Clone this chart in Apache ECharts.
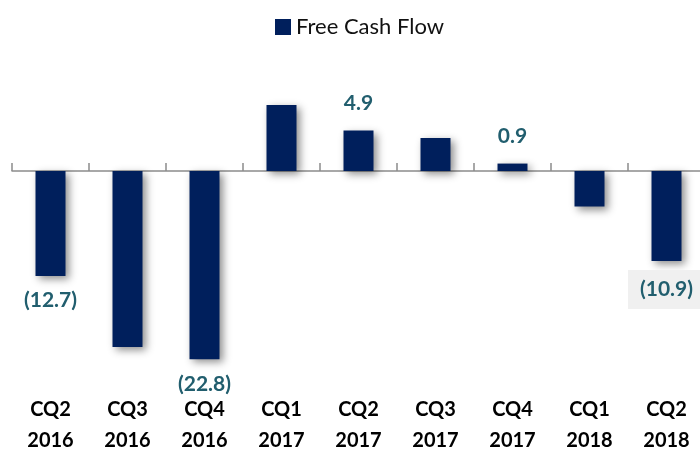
<!DOCTYPE html>
<html><head><meta charset="utf-8">
<script src="https://cdn.jsdelivr.net/npm/echarts@6/dist/echarts.min.js"></script>
<style>html,body{margin:0;padding:0;background:#fff}#c{width:700px;height:455px}</style>
</head><body><div id="c"></div>
<script>
const categories = ['CQ2\n2016','CQ3\n2016','CQ4\n2016','CQ1\n2017','CQ2\n2017','CQ3\n2017','CQ4\n2017','CQ1\n2018','CQ2\n2018'];
const values = [-12.7, -21.3, -22.8, 8.0, 4.9, 4.0, 0.9, -4.3, -10.9];
const labelShown = [true, false, true, false, true, false, true, false, true];
const seriesName = 'Free Cash Flow';

const k = 8.26, zeroY = 171, yMax = 10, yMin = -25;
const fmt = v => v < 0 ? '(' + Math.abs(v).toFixed(1) + ')' : v.toFixed(1);
const data = values.map((v, i) => {
  const d = { value: v };
  if (labelShown[i]) {
    d.label = {
      show: true,
      position: v < 0 ? 'bottom' : 'top',
      distance: v < 0 ? 14 : 17,
      formatter: p => fmt(p.value)
    };
    if (i === values.length - 1) {
      d.label.backgroundColor = '#F0F0F0';
      d.label.padding = [9, 12, 9, 12];
      d.label.distance = 9;
    }
  }
  return d;
});

const chart = echarts.init(document.getElementById('c'));
chart.setOption({
  animation: false,
  legend: {
    top: 11, left: 270,
    itemWidth: 16, itemHeight: 16, itemGap: 6,
    icon: 'rect',
    textStyle: { fontFamily: 'Lato', fontSize: 22, color: '#111' },
    data: [seriesName]
  },
  grid: { left: 12, width: 693, top: zeroY - yMax * k, height: (yMax - yMin) * k, containLabel: false, outerBoundsMode: 'none' },
  xAxis: [{
    type: 'category', data: categories,
    axisLine: { onZero: true, lineStyle: { color: '#8c8c8c', width: 1.5 } },
    axisTick: { show: true, inside: true, length: 8, lineStyle: { color: '#8c8c8c', width: 1.5 } },
    axisLabel: { show: false }
  }, {
    type: 'category', data: categories, position: 'bottom',
    axisLine: { show: false, onZero: false },
    axisTick: { show: false },
    axisLabel: { margin: 17, fontFamily: 'Lato', fontWeight: 'bold', fontSize: 20, color: '#000', lineHeight: 31, interval: 0 }
  }],
  yAxis: { type: 'value', min: yMin, max: yMax, show: false, splitLine: { show: false } },
  series: [{
    name: seriesName, type: 'bar', data: data, barWidth: 30, xAxisIndex: 0,
    itemStyle: { color: '#001F5C', shadowBlur: 8, shadowColor: 'rgba(0,0,0,0.45)', shadowOffsetX: 3, shadowOffsetY: 3 },
    label: { show: false, fontFamily: 'Lato', fontWeight: 'bold', fontSize: 21, color: '#215E6E' }
  }]
});
</script></body></html>
